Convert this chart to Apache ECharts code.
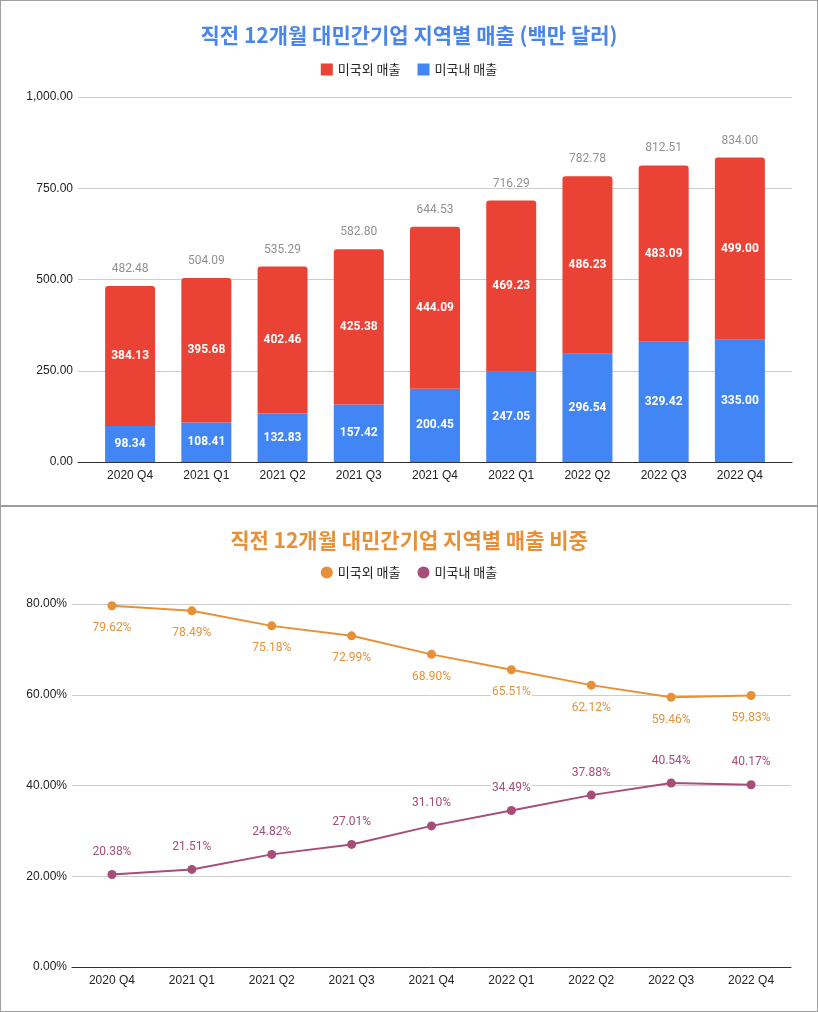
<!DOCTYPE html>
<html>
<head>
    <meta charset="UTF-8">
    <title>대민간기업 지역별 매출</title>
    <style>
        html, body {
            margin: 0;
            padding: 0;
            background: #fff;
        }
        .box {
            width: 816px;
            height: 504px;
            border: 1px solid #9e9e9e;
        }
    </style>
    <script src="https://cdn.jsdelivr.net/npm/echarts@6/dist/echarts.min.js"></script>
</head>
<body>
<div id="bar_chart" class="box"></div>
<div id="line_chart" class="box"></div>

<script type="text/javascript">
    // 분기
    var quarters = ['2020 Q4', '2021 Q1', '2021 Q2', '2021 Q3', '2021 Q4',
        '2022 Q1', '2022 Q2', '2022 Q3', '2022 Q4'];
    var seriesNames = ['미국외 매출', '미국내 매출'];
    // 매출 (백만 달러)
    var outsideSales = [384.13, 395.68, 402.46, 425.38, 444.09, 469.23, 486.23, 483.09, 499.00];
    var insideSales = [98.34, 108.41, 132.83, 157.42, 200.45, 247.05, 296.54, 329.42, 335.00];
    var totalSales = [482.48, 504.09, 535.29, 582.80, 644.53, 716.29, 782.78, 812.51, 834.00];
    // 비중 (%)
    var outsideShare = [79.62, 78.49, 75.18, 72.99, 68.90, 65.51, 62.12, 59.46, 59.83];
    var insideShare = [20.38, 21.51, 24.82, 27.01, 31.10, 34.49, 37.88, 40.54, 40.17];
    // y축 눈금
    var salesTicks = {min: 0, max: 1000, step: 250};
    var shareTicks = {min: 0, max: 80, step: 20};

    var krFont = '"Noto Sans CJK KR", sans-serif';
    var axisFont = 'Arial, "Liberation Sans", sans-serif';
    var numFont = 'Roboto, Arial, sans-serif';

    function money(v) {
        return Number(v).toLocaleString('en-US', {minimumFractionDigits: 2, maximumFractionDigits: 2});
    }

    function createBarChart() {
        var myChart = echarts.init(document.getElementById('bar_chart'));
        var option = {
            animation: false,
            title: {
                text: '직전 12개월 대민간기업 지역별 매출 (백만 달러)',
                left: 'center',
                top: 19,
                textStyle: {color: '#4a86e8', fontSize: 21, fontWeight: 'bold', fontFamily: krFont}
            },
            legend: {
                top: 57,
                left: 'center',
                itemWidth: 12,
                itemHeight: 12,
                itemGap: 17,
                icon: 'rect',
                data: seriesNames,
                textStyle: {color: '#222', fontSize: 13, fontFamily: krFont}
            },
            // grid 0 은 눈금선, grid 1 은 막대
            grid: [
                {left: 77, right: 25, top: 96, bottom: 43},
                {left: 91, right: 39, top: 96, bottom: 43}
            ],
            xAxis: [{
                gridIndex: 0,
                type: 'category',
                data: quarters,
                axisLine: {show: true, lineStyle: {color: '#333'}},
                axisTick: {show: false},
                axisLabel: {show: false}
            }, {
                gridIndex: 1,
                type: 'category',
                data: quarters,
                axisLine: {show: false},
                axisTick: {show: false},
                axisLabel: {margin: 8, color: '#222', fontSize: 12, fontFamily: axisFont}
            }],
            yAxis: [{
                gridIndex: 0,
                type: 'value',
                min: salesTicks.min,
                max: salesTicks.max,
                interval: salesTicks.step,
                axisLabel: {margin: 5, color: '#222', fontSize: 12, fontFamily: axisFont, formatter: money},
                splitLine: {lineStyle: {color: '#cccccc'}}
            }, {
                gridIndex: 1,
                type: 'value',
                min: salesTicks.min,
                max: salesTicks.max,
                interval: salesTicks.step,
                show: false
            }],
            series: [{
                name: seriesNames[1],
                type: 'bar',
                stack: 'sales',
                xAxisIndex: 1,
                yAxisIndex: 1,
                barWidth: 50,
                data: insideSales,
                itemStyle: {color: '#4285f4'},
                label: {
                    show: true,
                    position: 'inside',
                    color: '#fff',
                    fontWeight: 'bold',
                    fontSize: 12,
                    fontFamily: numFont,
                    formatter: function (p) { return money(p.value); }
                }
            }, {
                name: seriesNames[0],
                type: 'bar',
                stack: 'sales',
                xAxisIndex: 1,
                yAxisIndex: 1,
                barWidth: 50,
                data: outsideSales,
                itemStyle: {color: '#ea4335', borderRadius: [3, 3, 0, 0]},
                label: {
                    show: true,
                    position: 'inside',
                    color: '#fff',
                    fontWeight: 'bold',
                    fontSize: 12,
                    fontFamily: numFont,
                    formatter: function (p) { return money(p.value); }
                }
            }, {
                // 합계 라벨
                name: 'total',
                type: 'scatter',
                xAxisIndex: 1,
                yAxisIndex: 1,
                symbolSize: 0,
                data: totalSales,
                silent: true,
                label: {
                    show: true,
                    position: 'top',
                    distance: 11,
                    color: '#757575',
                    fontSize: 12,
                    fontFamily: numFont,
                    formatter: function (p) { return money(p.value); }
                }
            }]
        };
        myChart.setOption(option);
    }

    function createLineChart() {
        var myChart = echarts.init(document.getElementById('line_chart'));
        var option = {
            animation: false,
            title: {
                text: '직전 12개월 대민간기업 지역별 매출 비중',
                left: 'center',
                top: 18,
                textStyle: {color: '#e69138', fontSize: 21, fontWeight: 'bold', fontFamily: krFont}
            },
            color: ['#e69138', '#a64d79'],
            legend: {
                top: 54,
                left: 'center',
                itemWidth: 12,
                itemHeight: 12,
                itemGap: 17,
                icon: 'circle',
                data: seriesNames,
                textStyle: {color: '#222', fontSize: 13, fontFamily: krFont}
            },
            grid: {left: 71, right: 26, top: 97, bottom: 44},
            xAxis: {
                type: 'category',
                data: quarters,
                boundaryGap: true,
                axisLine: {show: true, lineStyle: {color: '#333'}},
                axisTick: {show: false},
                axisLabel: {margin: 8, color: '#222', fontSize: 12, fontFamily: axisFont}
            },
            yAxis: {
                type: 'value',
                min: shareTicks.min,
                max: shareTicks.max,
                interval: shareTicks.step,
                axisLabel: {
                    margin: 5, color: '#222', fontSize: 12, fontFamily: axisFont,
                    formatter: function (v) { return v.toFixed(2) + '%'; }
                },
                splitLine: {lineStyle: {color: '#cccccc'}}
            },
            series: [{
                name: seriesNames[0],
                type: 'line',
                data: outsideShare,
                symbol: 'circle',
                symbolSize: 9,
                lineStyle: {width: 2},
                label: {
                    show: true,
                    position: 'bottom',
                    distance: 11,
                    color: '#e69138',
                    fontSize: 12,
                    fontFamily: numFont,
                    backgroundColor: '#fff',
                    padding: [1, 1],
                    formatter: function (p) { return p.value.toFixed(2) + '%'; }
                }
            }, {
                name: seriesNames[1],
                type: 'line',
                data: insideShare,
                symbol: 'circle',
                symbolSize: 9,
                lineStyle: {width: 2},
                label: {
                    show: true,
                    position: 'top',
                    distance: 11,
                    color: '#a64d79',
                    fontSize: 12,
                    fontFamily: numFont,
                    backgroundColor: '#fff',
                    padding: [1, 1],
                    formatter: function (p) { return p.value.toFixed(2) + '%'; }
                }
            }]
        };
        myChart.setOption(option);
    }

    createBarChart();
    createLineChart();
</script>
</body>
</html>
